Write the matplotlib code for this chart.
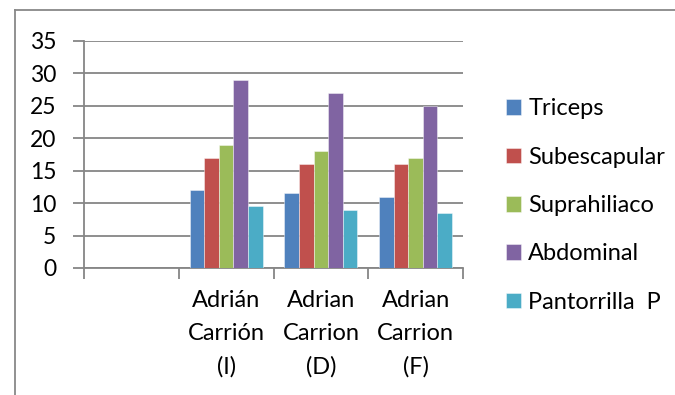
import matplotlib
matplotlib.use("Agg")
import matplotlib.pyplot as plt
import numpy as np
from matplotlib.lines import Line2D

categories = ["", "Adrián\nCarrión\n(I)", "Adrian\nCarrion\n(D)", "Adrian\nCarrion\n(F)"]
series_names = ["Triceps", "Subescapular", "Suprahiliaco", "Abdominal", "Pantorrilla  P"]
triceps = [np.nan, 12, 11.6, 11]
subescapular = [np.nan, 17, 16, 16]
suprahiliaco = [np.nan, 19, 18, 17]
abdominal = [np.nan, 29, 27, 25]
pantorrilla = [np.nan, 9.5, 9, 8.5]
yticks = [0, 5, 10, 15, 20, 25, 30, 35]

colors = ["#4F81BD", "#C0504D", "#9BBB59", "#8064A2", "#4BACC6"]
values = [triceps, subescapular, suprahiliaco, abdominal, pantorrilla]

plt.rcParams['font.family'] = ['Lato', 'DejaVu Sans']

fig = plt.figure(figsize=(6.75, 3.95), dpi=100)
ax = fig.add_axes([84/675, 1-268/395, (463-84)/675, (268-40.7)/395])

n = len(series_names)
w = 1/6.5
x = np.arange(len(categories))
for i, (name, vals, c) in enumerate(zip(series_names, values, colors)):
    ax.bar(x + (i - (n-1)/2)*w, vals, width=w, color=c, label=name,
           edgecolor=(1, 1, 1, 0.5), linewidth=0.6, zorder=3)

ax.set_xlim(-0.5, len(categories)-0.5)
ax.set_ylim(0, 35)
ax.set_yticks(yticks)
ax.set_yticklabels([str(v) for v in yticks], fontsize=16.5)
ax.yaxis.grid(True, color="#868686", linewidth=1.3, zorder=0)
ax.set_axisbelow(True)

ax.set_xticks(x)
ax.set_xticklabels(categories, fontsize=17, linespacing=1.68, va="top")
ax.tick_params(axis="x", which="major", length=0, pad=16)
ax.set_xticks(np.arange(len(categories)+1) - 0.5, minor=True)
ax.tick_params(axis="x", which="minor", length=8, color="#868686", width=1.3)
ax.tick_params(axis="y", length=8, color="#868686", width=1.3, pad=12)

for s in ["top", "right"]:
    ax.spines[s].set_visible(False)
for s in ["left", "bottom"]:
    ax.spines[s].set_color("#868686")
    ax.spines[s].set_linewidth(1.3)

leg = fig.legend(loc="center left", bbox_to_anchor=(506/675, 1-205.5/395), frameon=False,
                 fontsize=17, handlelength=0.64, handleheight=0.64, handletextpad=0.3,
                 labelspacing=1.16, borderaxespad=0, borderpad=0)

fig.add_artist(Line2D([15/675, 15/675], [0, 1-10/395], color="#888888", lw=1.3,
                      transform=fig.transFigure))
fig.add_artist(Line2D([15/675, 1], [1-10/395, 1-10/395], color="#888888", lw=1.3,
                      transform=fig.transFigure))

fig.savefig("out.png", dpi=100)
